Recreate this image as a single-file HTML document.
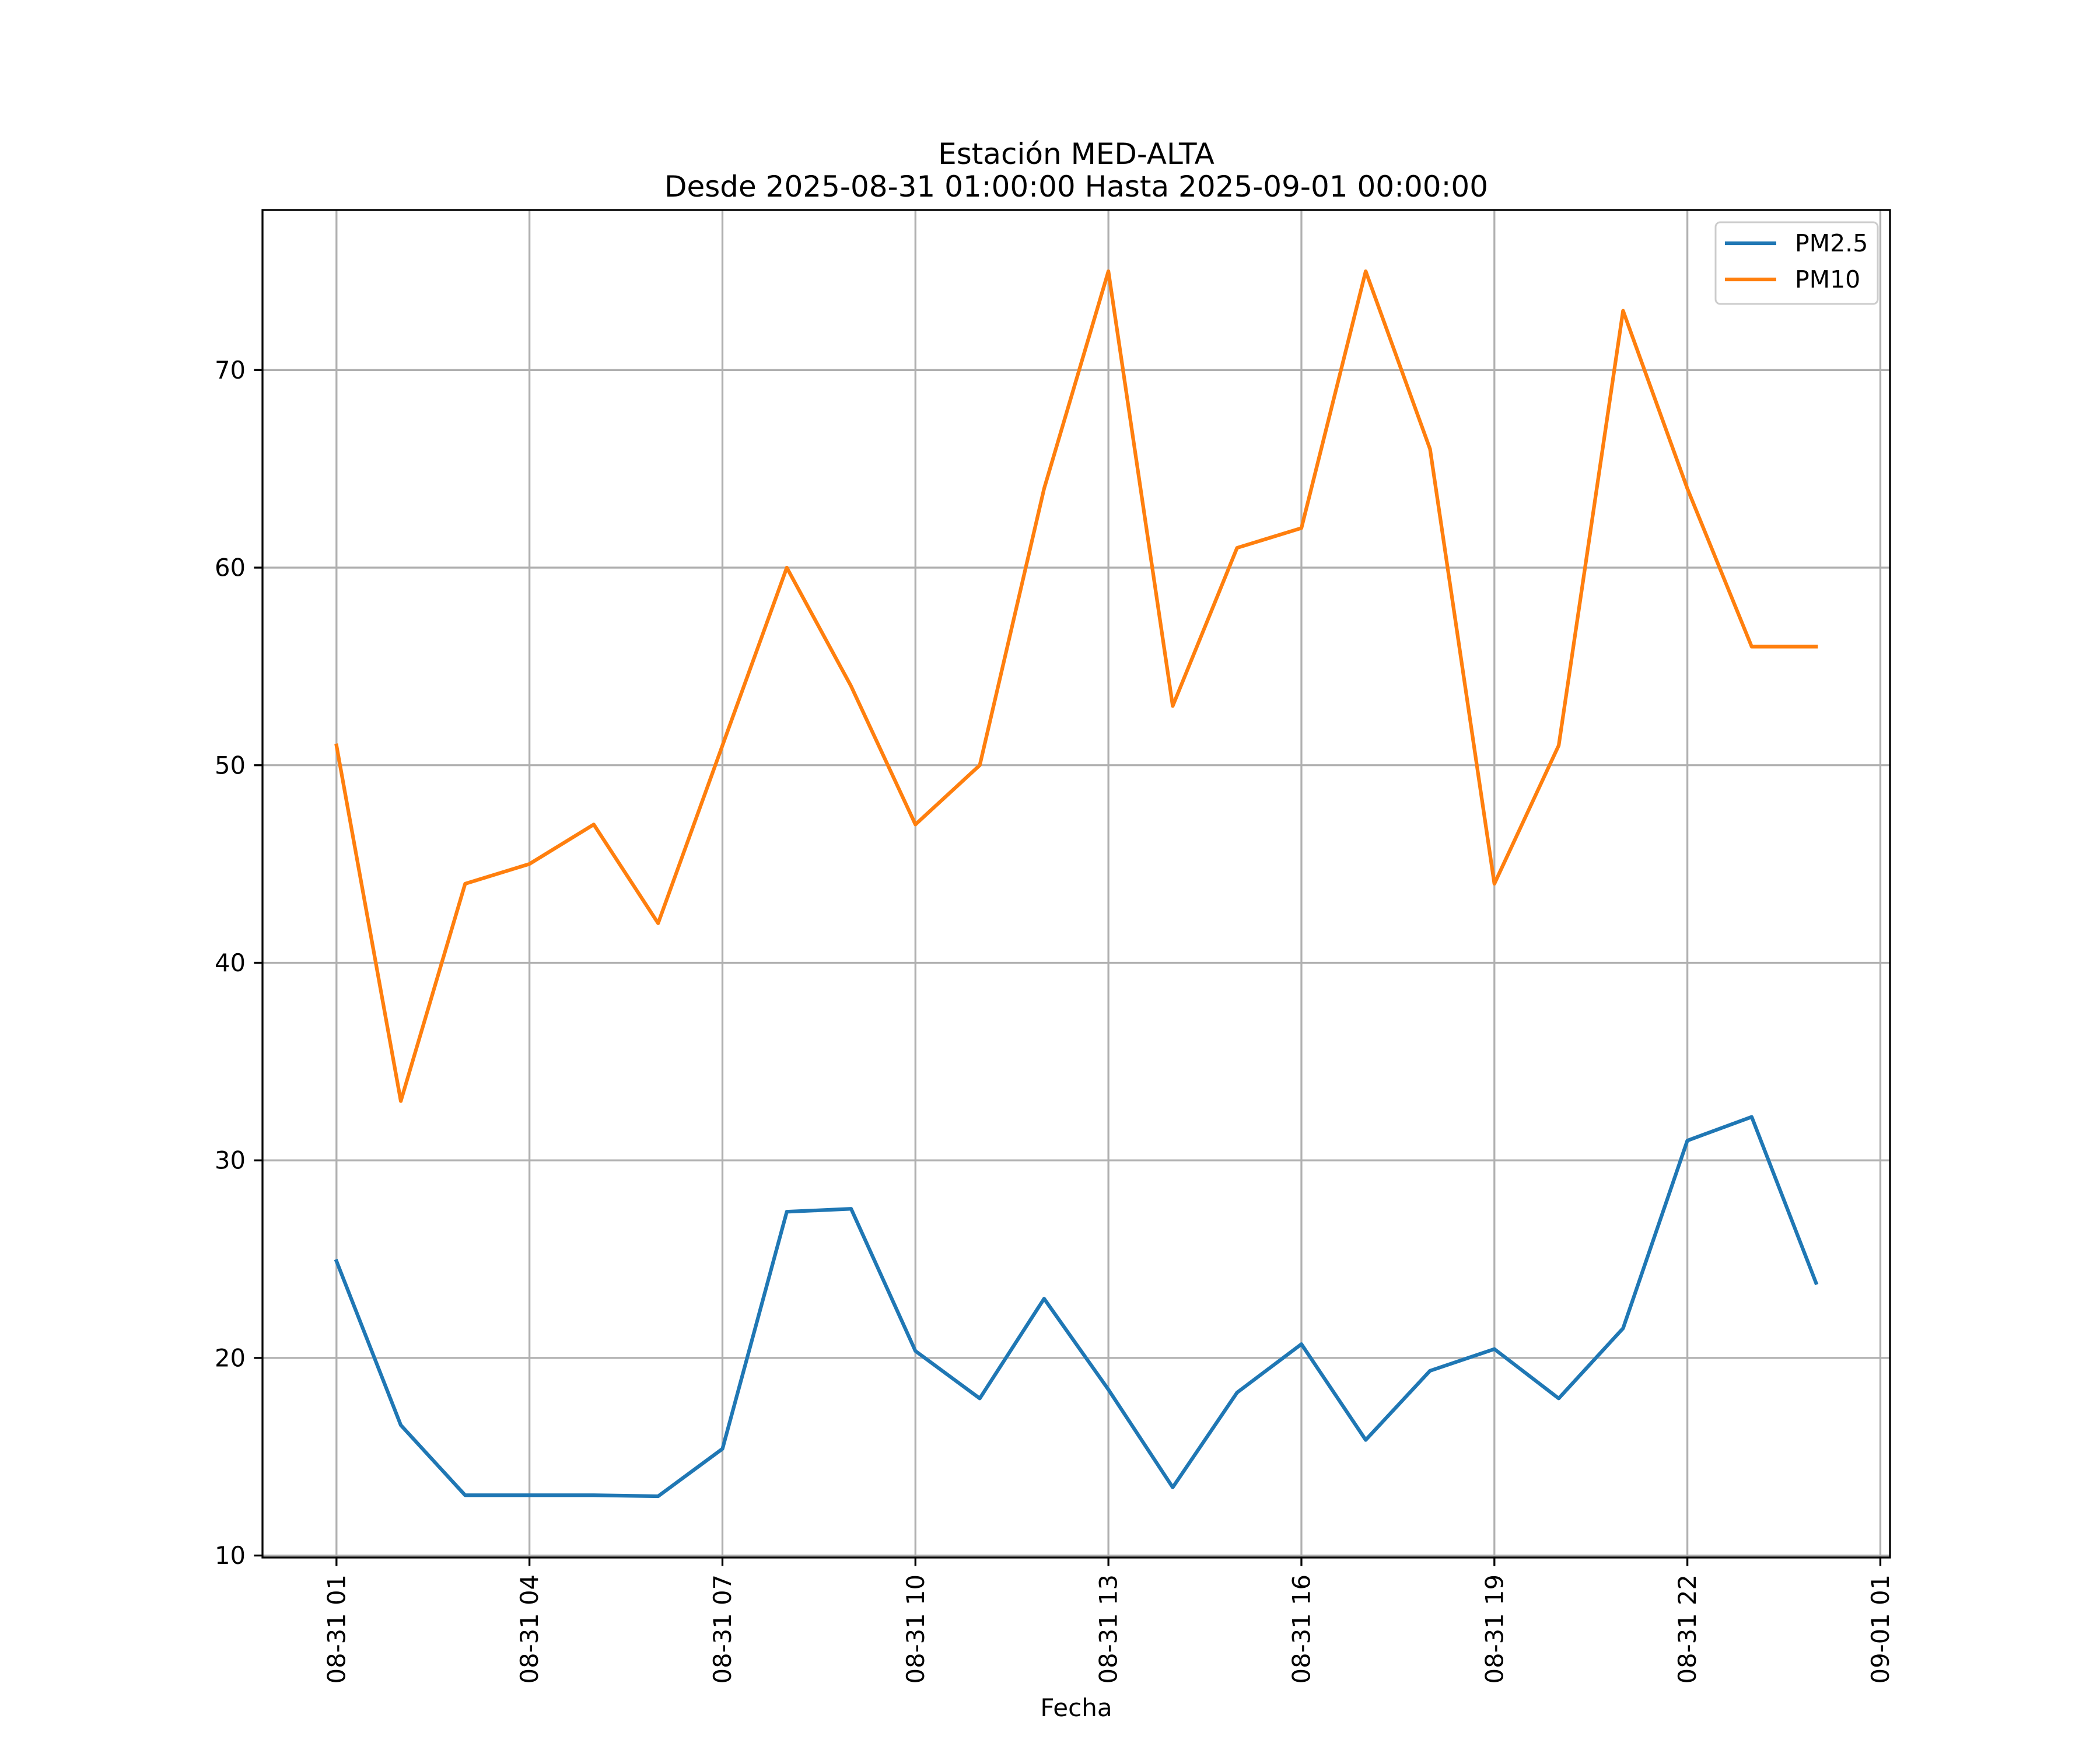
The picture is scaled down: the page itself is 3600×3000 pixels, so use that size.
<!DOCTYPE html>
<html><head><meta charset="utf-8"><style>
html,body{margin:0;padding:0;background:#fff;}
svg{display:block;font-family:"DejaVu Sans","Liberation Sans",sans-serif;}
</style></head><body>
<svg id="chart" width="3600" height="3000" viewBox="0 0 3600 3000" xmlns="http://www.w3.org/2000/svg">
<rect width="3600" height="3000" fill="#fff"/>
<g id="grid"></g>
<g id="series"></g>
<rect x="450" y="360" width="2790" height="2310" fill="none" stroke="#000" stroke-width="3.3"/>
<g id="ticks"></g>
<text x="1845" y="281" font-size="50" text-anchor="middle">Estación MED-ALTA</text>
<text x="1845" y="337" font-size="50" text-anchor="middle">Desde 2025-08-31 01:00:00 Hasta 2025-09-01 00:00:00</text>
<text x="1845" y="2942" font-size="42" text-anchor="middle">Fecha</text>
<g>
<rect x="2941" y="381" width="278" height="140" rx="8" fill="#fff" fill-opacity="0.8" stroke="#ccc" stroke-width="3"/>
<line x1="2957" y1="417" x2="3045" y2="417" stroke="#1f77b4" stroke-width="6.25"/>
<text x="3077" y="431" font-size="41">PM2.5</text>
<line x1="2957" y1="479" x2="3045" y2="479" stroke="#ff7f0e" stroke-width="6.25"/>
<text x="3077" y="493" font-size="41">PM10</text>
</g>
</svg>
<script>
const hours = [1,2,3,4,5,6,7,8,9,10,11,12,13,14,15,16,17,18,19,20,21,22,23,24];
const pm25 = [24.9,16.6,13.05,13.05,13.05,13.0,15.4,27.4,27.55,20.35,17.95,23.0,18.4,13.45,18.25,20.7,15.85,19.35,20.45,17.95,21.5,31.0,32.2,23.8];
const pm10 = [51,33,44,45,47,42,51,60,54,47,50,64,75,53,61,62,75,66,44,51,73,64,56,56];
const xTickHours = [1,4,7,10,13,16,19,22,25];
const xTickLabels = ["08-31 01","08-31 04","08-31 07","08-31 10","08-31 13","08-31 16","08-31 19","08-31 22","09-01 01"];
const yTicks = [10,20,30,40,50,60,70];

const NS="http://www.w3.org/2000/svg";
const L=450,R=3240,T=360,B=2670;
const allV=pm25.concat(pm10);
const vmin=Math.min(...allV), vmax=Math.max(...allV), vr=vmax-vmin;
const y0=vmin-0.05*vr, y1=vmax+0.05*vr;
const h0=hours[0], h1=hours[hours.length-1], hr=h1-h0;
const x0=h0-0.05*hr, x1=h1+0.05*hr;
const sx=h=>L+(h-x0)/(x1-x0)*(R-L);
const sy=v=>B-(v-y0)/(y1-y0)*(B-T);
function mk(tag,attrs,parent){const e=document.createElementNS(NS,tag);for(const k in attrs)e.setAttribute(k,attrs[k]);parent.appendChild(e);return e;}
const grid=document.getElementById('grid'),ticks=document.getElementById('ticks'),series=document.getElementById('series');
xTickHours.forEach((h,i)=>{
  const x=sx(h);
  if(x<=R){const g=mk('line',{x1:x,y1:T,x2:x,y2:B,stroke:'#b0b0b0','stroke-width':3.3},grid);
  
  }
  const t=mk('line',{x1:x,y1:B,x2:x,y2:B+14.6,stroke:'#000','stroke-width':3.3},ticks);
  
  
  const lb=mk('text',{x:0,y:0,'font-size':41.7,'text-anchor':'end','dominant-baseline':'central',transform:`translate(${x},${B+29}) rotate(-90)`},ticks);
  lb.textContent=xTickLabels[i];
  
  
});
yTicks.forEach(v=>{
  const y=sy(v);
  const g=mk('line',{x1:L,y1:y,x2:R,y2:y,stroke:'#b0b0b0','stroke-width':3.3},grid);
  
  
  const t=mk('line',{x1:L-14.6,y1:y,x2:L,y2:y,stroke:'#000','stroke-width':3.3},ticks);
  
  
  const lb=mk('text',{x:L-29,y:y,'font-size':41.7,'text-anchor':'end','dominant-baseline':'central'},ticks);
  lb.textContent=String(v);
  
  
});
function line(vals,color,name){
  const pts=vals.map((v,i)=>sx(hours[i]).toFixed(1)+','+sy(v).toFixed(1)).join(' ');
  const p=mk('polyline',{points:pts,fill:'none',stroke:color,'stroke-width':6.25,'stroke-linejoin':'round','stroke-linecap':'square'},series);
  
  
}
line(pm25,'#1f77b4','pm25-line');
line(pm10,'#ff7f0e','pm10-line');
</script>
</body></html>
